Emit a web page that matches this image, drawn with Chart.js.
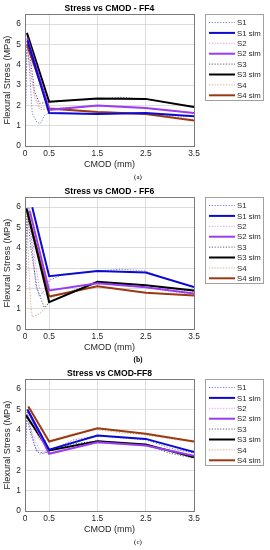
<!DOCTYPE html>
<html>
<head>
<meta charset="utf-8">
<script src="https://cdn.jsdelivr.net/npm/chart.js@4.4.1/dist/chart.umd.min.js"></script>
<style>
  html, body { margin: 0; padding: 0; background: #ffffff; }
  body { width: 270px; height: 550px; position: relative; overflow: hidden; }
  canvas { position: absolute; left: 0; }
</style>
</head>
<body>
<canvas id="ffa" width="270" height="183" style="top:0px"></canvas>
<canvas id="ffb" width="270" height="183" style="top:183px"></canvas>
<canvas id="ffc" width="270" height="183" style="top:365px"></canvas>
<script>
// ---- tick labels / categories ----
const X_TICKS = [0, 0.5, 1.5, 2.5, 3.5];
const Y_TICKS = [0, 1, 2, 3, 4, 5, 6];
const SERIES_NAMES = ["S1", "S1 sim", "S2", "S2 sim", "S3", "S3 sim", "S4", "S4 sim"];

// ---- FF4 ----
const FF4_S1 = [[0,0],[0.01,2],[0.03,4.5],[0.05,5.2],[0.1,3.5],[0.15,1.6],[0.25,1.15],[0.32,1.1],[0.4,1.5],[0.5,1.65],[1,1.6],[1.5,1.55],[2,1.6],[2.5,1.6],[3,1.5],[3.5,1.45]];
const FF4_S1_SIM = [[0.05,5.2],[0.5,1.62],[1.5,1.58],[2.5,1.63],[3.5,1.47]];
const FF4_S2 = [[0,0],[0.02,3],[0.05,5.3],[0.1,4],[0.2,2.5],[0.3,1.9],[0.5,1.85],[1,1.9],[1.5,1.95],[2,1.9],[2.5,1.85],[3,1.75],[3.5,1.6]];
const FF4_S2_SIM = [[0.05,5.3],[0.5,1.78],[1.5,2.0],[2.5,1.87],[3.5,1.62]];
const FF4_S3 = [[0,0],[0.02,3.5],[0.05,5.5],[0.1,4.5],[0.2,2.7],[0.3,2.1],[0.5,2.15],[1,2.25],[1.5,2.3],[2,2.4],[2.5,2.3],[3,2.1],[3.5,1.95]];
const FF4_S3_SIM = [[0.04,5.57],[0.5,2.18],[1.5,2.34],[2.5,2.32],[3.5,1.92]];
const FF4_S4 = [[0,0],[0.02,3],[0.04,4.9],[0.1,3.8],[0.2,2.4],[0.3,1.8],[0.5,1.8],[1,1.75],[1.5,1.7],[2,1.65],[2.5,1.6],[3,1.45],[3.5,1.3]];
const FF4_S4_SIM = [[0.04,5.0],[0.5,1.85],[1.5,1.68],[2.5,1.58],[3.5,1.26]];

// ---- FF6 ----
const FF6_S1 = [[0,0],[0.03,4],[0.08,6.0],[0.15,4],[0.22,2.2],[0.3,1.6],[0.4,1.9],[0.5,2.4],[0.8,2.7],[1.5,2.85],[2,2.95],[2.5,2.85],[3,2.4],[3.5,2.05]];
const FF6_S1_SIM = [[0.15,6.0],[0.5,2.6],[1.5,2.85],[2.5,2.78],[3.5,2.07]];
const FF6_S2 = [[0,0],[0.03,4.5],[0.1,5.9],[0.2,3.5],[0.3,2.0],[0.4,1.7],[0.5,1.85],[1,2.1],[1.5,2.25],[2,2.2],[2.5,2.05],[3,1.85],[3.5,1.7]];
const FF6_S2_SIM = [[0.1,5.8],[0.5,1.9],[1.5,2.25],[2.5,2.05],[3.5,1.75]];
const FF6_S3 = [[0,0],[0.02,4.5],[0.05,5.9],[0.12,4],[0.25,2],[0.4,1.05],[0.5,1.3],[1,1.9],[1.5,2.3],[2,2.2],[2.5,2.15],[3,2.0],[3.5,1.85]];
const FF6_S3_SIM = [[0.03,5.95],[0.5,1.32],[1.5,2.32],[2.5,2.15],[3.5,1.9]];
const FF6_S4 = [[0,0],[0.02,3.5],[0.04,5.8],[0.08,3],[0.12,1.2],[0.15,0.6],[0.3,0.75],[0.45,1.1],[0.5,1.5],[1,1.9],[1.5,2.1],[2,1.95],[2.5,1.8],[3,1.7],[3.5,1.65]];
const FF6_S4_SIM = [[0.05,5.8],[0.5,1.6],[1.5,2.1],[2.5,1.78],[3.5,1.65]];

// ---- FF8 ----
const FF8_S1 = [[0,0],[0.01,3],[0.04,5.0],[0.1,4.2],[0.2,3.2],[0.3,2.8],[0.5,2.95],[1,3.5],[1.5,3.7],[2,3.6],[2.5,3.5],[3,3.1],[3.5,2.85]];
const FF8_S1_SIM = [[0.05,5.0],[0.5,3.02],[1.5,3.72],[2.5,3.55],[3.5,2.9]];
const FF8_S2 = [[0,0],[0.01,3],[0.05,4.9],[0.15,3.8],[0.3,3.0],[0.5,2.85],[1,3.2],[1.5,3.35],[2,3.3],[2.5,3.2],[3,2.95],[3.5,2.7]];
const FF8_S2_SIM = [[0.07,4.9],[0.5,2.82],[1.5,3.38],[2.5,3.22],[3.5,2.72]];
const FF8_S3 = [[0,0],[0.01,3],[0.03,4.7],[0.12,3.8],[0.25,2.9],[0.4,2.85],[0.5,2.95],[1,3.3],[1.5,3.45],[2,3.35],[2.5,3.25],[3,2.85],[3.5,2.6]];
const FF8_S3_SIM = [[0.02,4.72],[0.5,2.98],[1.5,3.43],[2.5,3.28],[3.5,2.65]];
const FF8_S4 = [[0,0],[0.01,3.5],[0.06,5.15],[0.15,4.3],[0.3,3.5],[0.5,3.45],[1,3.8],[1.5,4.0],[2,3.85],[2.5,3.75],[3,3.55],[3.5,3.4]];
const FF8_S4_SIM = [[0.07,5.15],[0.5,3.42],[1.5,4.07],[2.5,3.8],[3.5,3.42]];

// ---- styles ----
const STYLES = [
  { color: "#7a7ae0", width: 1, dash: [1.2, 1.6] },
  { color: "#0a0ad0", width: 2, dash: [] },
  { color: "#e890e8", width: 1, dash: [1.2, 1.6] },
  { color: "#9a3cf0", width: 2, dash: [] },
  { color: "#5a5a78", width: 1, dash: [1.2, 1.6] },
  { color: "#000000", width: 2, dash: [] },
  { color: "#d8aa7a", width: 1, dash: [1.2, 1.6] },
  { color: "#9a3a14", width: 2, dash: [] }
];

const FONT = "'Liberation Sans', Arial, sans-serif";
const TXT = "#262626";

const framePlugin = {
  id: "matlabFrame",
  afterDraw(chart, args, opts) {
    const ctx = chart.ctx;
    const a = chart.chartArea;
    ctx.save();
    // plot box
    ctx.strokeStyle = "#7a7a7a";
    ctx.lineWidth = 1;
    ctx.setLineDash([]);
    ctx.strokeRect(Math.round(a.left) + 0.5, Math.round(a.top) + 0.5,
                   Math.round(a.right - a.left), Math.round(a.bottom - a.top));
    // title
    ctx.fillStyle = "#000";
    ctx.font = "bold 8.6px " + FONT;
    ctx.textAlign = "center";
    ctx.textBaseline = "middle";
    ctx.fillText(opts.title, (a.left + a.right) / 2, 8.5);
    // caption
    ctx.font = opts.captionFont;
    ctx.fillText(opts.caption, 138, 177);
    // legend box
    const lx = 205, ly = 14, lw = 58, lh = 86;
    ctx.fillStyle = "#fff";
    ctx.fillRect(lx, ly, lw, lh);
    ctx.strokeStyle = "#a0a0a0";
    ctx.strokeRect(lx + 0.5, ly + 0.5, lw, lh);
    ctx.font = "7.8px " + FONT;
    ctx.textAlign = "left";
    chart.data.datasets.forEach((ds, i) => {
      const y = 22.5 + i * 10.4;
      ctx.strokeStyle = ds.borderColor;
      ctx.lineWidth = ds.borderWidth;
      ctx.setLineDash(ds.borderDash || []);
      ctx.beginPath();
      ctx.moveTo(209, y);
      ctx.lineTo(235, y);
      ctx.stroke();
      ctx.setLineDash([]);
      ctx.fillStyle = TXT;
      ctx.fillText(ds.label, 237, y + 0.5);
    });
    ctx.restore();
  }
};

function makePanel(id, title, caption, captionFont, seriesList) {
  const datasets = seriesList.map((pts, i) => ({
    label: SERIES_NAMES[i],
    data: pts.map(p => ({ x: p[0], y: p[1] })),
    borderColor: STYLES[i].color,
    backgroundColor: STYLES[i].color,
    borderWidth: STYLES[i].width,
    borderDash: STYLES[i].dash,
    pointRadius: 0,
    tension: 0,
    fill: false,
    order: i % 2 === 0 ? 1 : 0
  }));
  new Chart(document.getElementById(id), {
    type: "line",
    data: { datasets },
    options: {
      responsive: false,
      animation: false,
      devicePixelRatio: 1,
      layout: { padding: { top: 14, right: 76, bottom: 9, left: 0 } },
      plugins: {
        legend: { display: false },
        tooltip: { enabled: false },
        title: { display: false },
        matlabFrame: { title, caption, captionFont }
      },
      scales: {
        x: {
          type: "linear", min: 0, max: 3.5,
          afterBuildTicks: s => { s.ticks = X_TICKS.map(v => ({ value: v })); },
          afterFit: s => { s.height = 28; },
          ticks: { autoSkip: false, maxRotation: 0, padding: 3, color: TXT,
                   font: { family: FONT, size: 8.4 }, callback: v => String(v) },
          grid: { color: "#dcdcdc", drawTicks: false },
          border: { display: false },
          title: { display: true, text: "CMOD (mm)", color: TXT,
                   font: { family: FONT, size: 9 }, padding: { top: 0, bottom: 4 } }
        },
        y: {
          type: "linear", min: 0, max: 6.5,
          afterBuildTicks: s => { s.ticks = Y_TICKS.map(v => ({ value: v })); },
          afterFit: s => { s.width = 25; },
          ticks: { padding: 4, color: TXT, font: { family: FONT, size: 8.4 },
                   callback: v => String(v) },
          grid: { color: "#dcdcdc", drawTicks: false },
          border: { display: false },
          title: { display: true, text: "Flexural Stress (MPa)", color: TXT,
                   font: { family: FONT, size: 9.2 }, padding: { top: 2, bottom: 0 } }
        }
      }
    },
    plugins: [framePlugin]
  });
}

makePanel("ffa", "Stress vs CMOD - FF4", "(a)", "7px 'Liberation Serif', serif",
  [FF4_S1, FF4_S1_SIM, FF4_S2, FF4_S2_SIM, FF4_S3, FF4_S3_SIM, FF4_S4, FF4_S4_SIM]);
makePanel("ffb", "Stress vs CMOD - FF6", "(b)", "bold 7.5px 'Liberation Serif', serif",
  [FF6_S1, FF6_S1_SIM, FF6_S2, FF6_S2_SIM, FF6_S3, FF6_S3_SIM, FF6_S4, FF6_S4_SIM]);
makePanel("ffc", "Stress vs CMOD-FF8", "(c)", "7px 'Liberation Serif', serif",
  [FF8_S1, FF8_S1_SIM, FF8_S2, FF8_S2_SIM, FF8_S3, FF8_S3_SIM, FF8_S4, FF8_S4_SIM]);
</script>
</body>
</html>
